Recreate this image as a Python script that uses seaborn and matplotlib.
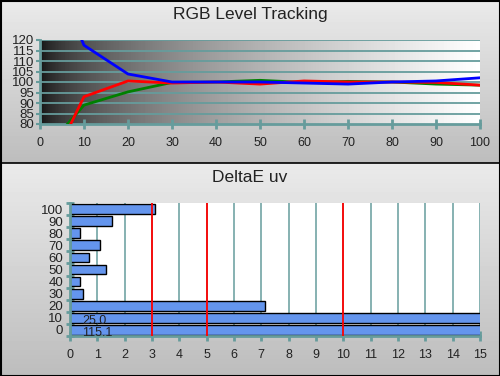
import numpy as np
import pandas as pd
import matplotlib
matplotlib.use("Agg")
import matplotlib.pyplot as plt
import seaborn as sns

# ---- data ----
levels = [0, 10, 20, 30, 40, 50, 60, 70, 80, 90, 100]
red_vals = [50, 93, 100.5, 99.5, 100, 99, 100.5, 100, 100, 99.8, 98.5]
green_vals = [65, 89, 95.3, 99.8, 100, 100.8, 99.8, 100.3, 100, 99, 98.5]
blue_vals = [167, 117.5, 103.8, 100, 100, 100, 99.5, 99, 100, 100.5, 102]

de_levels = [0, 10, 20, 30, 40, 50, 60, 70, 80, 90, 100]
de_values = [115.1, 25.0, 7.15, 0.48, 0.38, 1.3, 0.68, 1.1, 0.35, 1.55, 3.1]
thresholds = [3, 5, 10]

title_top = "RGB Level Tracking"
title_bot = "DeltaE uv"

sns.set_theme(style="white")
plt.rcParams['font.family'] = ['Liberation Sans', 'DejaVu Sans']

teal = "#669c9c"
W, H = 500, 376
fig = plt.figure(figsize=(W / 100, H / 100), dpi=100)

# panel backgrounds
def panel(y0, y1):
    ax = fig.add_axes([0, 1 - y1 / H, 1, (y1 - y0) / H], zorder=-10)
    grad = np.linspace(0.92, 0.74, int(y1 - y0)).reshape(-1, 1)
    ax.imshow(grad, cmap="gray", vmin=0, vmax=1, aspect="auto",
              extent=[0, 1, 0, 1], interpolation="nearest")
    ax.set_xlim(0, 1); ax.set_ylim(0, 1)
    ax.set_axis_off()
    return ax

panel(0, 163)
panel(163, 376)
border = fig.add_axes([0, 0, 1, 1], zorder=-5)
border.set_xlim(0, W); border.set_ylim(H, 0)
border.set_axis_off()
border.plot([0.5, W - 0.5, W - 0.5, 0.5, 0.5], [0.5, 0.5, H - 0.5, H - 0.5, 0.5],
            color="black", lw=1.5)
border.plot([0, W], [162.5, 162.5], color="black", lw=1.2)

fig.text(0.5, 1 - 15 / H, title_top, ha="center", va="center", fontsize=12.5, color="#222222")
fig.text(0.5, 1 - 178 / H, title_bot, ha="center", va="center", fontsize=12.5, color="#222222")

# ---- top chart ----
ax1 = fig.add_axes([40 / W, 1 - 124 / H, 440 / W, 84 / H])
xs = np.linspace(0, 1, 440)
grad = (0.05 + 0.95 * xs ** 0.55).reshape(1, -1)
ax1.imshow(grad, cmap="gray", vmin=0, vmax=1, aspect="auto",
           extent=[0, 100, 80, 120], zorder=0, interpolation="nearest")
for yv in range(85, 121, 5):
    ax1.axhline(yv, color=teal, lw=1.3, zorder=1)

df = pd.DataFrame({
    "level": levels * 3,
    "value": green_vals + red_vals + blue_vals,
    "ch": ["green"] * len(levels) + ["red"] * len(levels) + ["blue"] * len(levels),
})
sns.lineplot(data=df, x="level", y="value", hue="ch",
             palette={"green": "#008000", "red": "#ff0000", "blue": "#0000ff"},
             hue_order=["green", "red", "blue"], lw=2, legend=False, ax=ax1, zorder=3)
ax1.set_xlim(0, 100)
ax1.set_ylim(80, 120)
ax1.set_xticks(range(0, 101, 10))
ax1.set_yticks(range(80, 121, 5))
ax1.set_xlabel(""); ax1.set_ylabel("")
for s in ["top", "right"]:
    ax1.spines[s].set_visible(False)
for s in ["left", "bottom"]:
    ax1.spines[s].set_color(teal)
    ax1.spines[s].set_linewidth(2)
ax1.tick_params(axis="x", direction="inout", length=7, width=2, color=teal,
                labelsize=9, labelcolor="#222222", pad=6, bottom=True)
ax1.tick_params(axis="y", direction="out", length=3, width=1.5, color=teal,
                labelsize=9.5, labelcolor="#222222", pad=1, left=True)

# ---- bottom chart ----
ax2 = fig.add_axes([70 / W, 1 - 336 / H, 410 / W, 133 / H])
ax2.set_facecolor("white")
for xv in range(1, 16):
    ax2.axvline(xv, color=teal, lw=1.1, zorder=0)
ddf = pd.DataFrame({"level": de_levels, "de": de_values})
sns.barplot(data=ddf, x="de", y="level", orient="h", native_scale=True,
            color="#6495ED", saturation=1, edgecolor="black", linewidth=1,
            width=0.8, ax=ax2, zorder=2)
for tv in thresholds:
    ax2.axvline(tv, color="#ff0000", lw=1.3, zorder=3)
for lv, dv in zip(de_levels, de_values):
    if dv > 15:
        ax2.text(0.45, lv - 2.5, f"{dv:.1f}", fontsize=9, color="#222222",
                 va="center", ha="left", zorder=4)
ax2.set_xlim(0, 15)
ax2.set_ylim(-5, 105)
ax2.set_xticks(range(0, 16))
ax2.set_yticks(range(0, 101, 10))
ax2.set_yticks(np.arange(-5, 106, 10), minor=True)
ax2.set_xlabel(""); ax2.set_ylabel("")
for s in ["top", "right"]:
    ax2.spines[s].set_visible(False)
for s in ["left", "bottom"]:
    ax2.spines[s].set_color(teal)
    ax2.spines[s].set_linewidth(2)
ax2.tick_params(axis="x", direction="inout", length=7, width=2, color=teal,
                labelsize=9, labelcolor="#222222", pad=6, bottom=True)
ax2.tick_params(axis="y", which="major", length=0, labelsize=9.5,
                labelcolor="#222222", pad=5, left=True)
ax2.tick_params(axis="y", which="minor", direction="inout", length=6, width=2,
                color=teal, left=True)

fig.savefig("out.png", dpi=100)
